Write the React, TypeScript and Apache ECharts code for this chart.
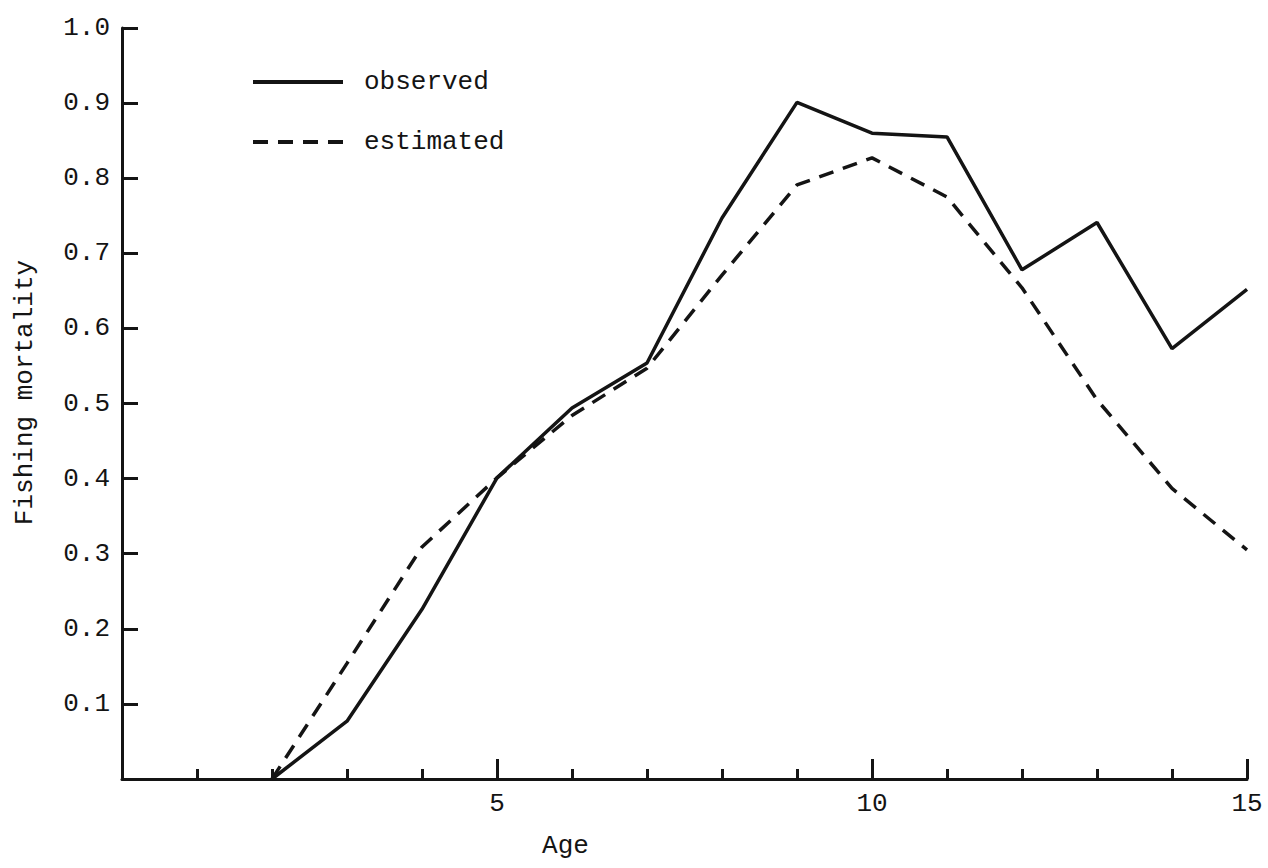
import React, { useEffect, useRef } from "react";
import * as echarts from "echarts";

const ages = [2, 3, 4, 5, 6, 7, 8, 9, 10, 11, 12, 13, 14, 15];
const observed = [0, 0.077, 0.226, 0.401, 0.494, 0.554, 0.747, 0.901, 0.86, 0.855, 0.678, 0.741, 0.573, 0.652];
const estimated = [0, 0.154, 0.309, 0.401, 0.484, 0.547, 0.671, 0.791, 0.827, 0.775, 0.654, 0.505, 0.387, 0.305];
const seriesNames = ["observed", "estimated"];
const xTitle = "Age";
const yTitle = "Fishing mortality";

const FONT = "Liberation Mono";
const INK = "#141414";

export default function App() {
  const ref = useRef<HTMLDivElement>(null);
  useEffect(() => {
    if (!ref.current) return;
    const chart = echarts.init(ref.current, null, { renderer: "svg" });
    const text = { fontFamily: FONT, fontSize: 26, color: INK };
    chart.setOption({
      animation: false,
      backgroundColor: "#ffffff",
      grid: { left: 122, right: 21, top: 28, bottom: 89, containLabel: false },
      legend: {
        orient: "vertical",
        left: 246,
        top: 64,
        itemWidth: 90,
        itemHeight: 14,
        itemGap: 34,
        data: seriesNames,
        itemStyle: { color: "rgba(0,0,0,0)", borderColor: "rgba(0,0,0,0)", borderWidth: 0, opacity: 0 },
        lineStyle: { width: 4 },
        textStyle: { ...text, padding: [0, 0, 14, 16] },
      },
      xAxis: {
        type: "value",
        min: 0,
        max: 15,
        interval: 5,
        name: xTitle,
        nameLocation: "middle",
        nameGap: 54,
        nameTextStyle: { ...text, padding: [0, 238, 0, 0] },
        axisLine: { show: true, lineStyle: { color: INK, width: 3 } },
        axisTick: { show: true, inside: true, length: 20, lineStyle: { color: INK, width: 3 } },
        minorTick: { show: true, splitNumber: 5, length: 10, lineStyle: { color: INK, width: 3 } },
        axisLabel: { ...text, margin: 12, formatter: (v: number) => (v === 0 ? "" : String(v)) },
        splitLine: { show: false },
        minorSplitLine: { show: false },
      },
      yAxis: {
        type: "value",
        min: 0,
        max: 1,
        interval: 0.1,
        name: yTitle,
        nameLocation: "middle",
        nameGap: 84,
        nameTextStyle: { ...text, padding: [0, 0, 0, 22] },
        axisLine: { show: true, lineStyle: { color: INK, width: 3 } },
        axisTick: { show: true, inside: true, length: 16, lineStyle: { color: INK, width: 3 } },
        axisLabel: { ...text, margin: 12, formatter: (v: number) => (v === 0 ? "" : v.toFixed(1)) },
        splitLine: { show: false },
      },
      series: [
        {
          name: seriesNames[0],
          type: "line",
          symbol: "none",
          data: ages.map((a, i) => [a, observed[i]]),
          lineStyle: { color: INK, width: 3.5, type: "solid" },
          itemStyle: { color: INK },
        },
        {
          name: seriesNames[1],
          type: "line",
          symbol: "none",
          data: ages.map((a, i) => [a, estimated[i]]),
          lineStyle: { color: INK, width: 3.5, type: [15, 10] },
          itemStyle: { color: INK },
        },
      ],
    });
    return () => chart.dispose();
  }, []);
  return (
    <div
      ref={ref}
      style={{ position: "absolute", left: 0, top: 0, width: 1268, height: 868, background: "#fff" }}
    />
  );
}
